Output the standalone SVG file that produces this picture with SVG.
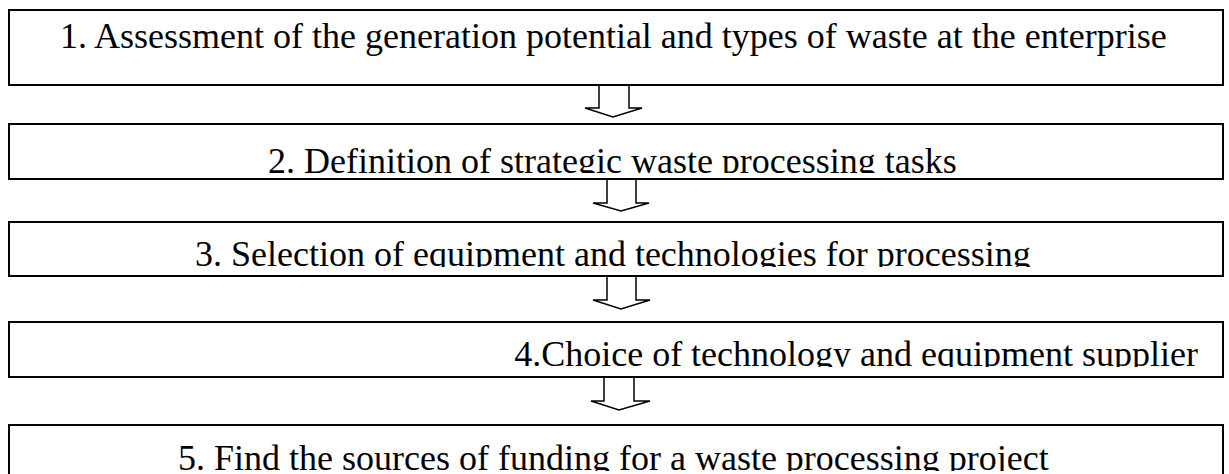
<svg xmlns="http://www.w3.org/2000/svg" width="1229" height="474" viewBox="0 0 1229 474">
<style>
.box{fill:#fff;stroke:#000;stroke-width:2}
.lbl{font-family:"Liberation Serif","Times New Roman",serif;font-size:36px;fill:#000}
.arr{fill:#fff;stroke:#000;stroke-width:1.5;stroke-linejoin:miter}
</style>
<defs>
<clipPath id="c2"><rect x="9" y="124" width="1214" height="49"/></clipPath>
<clipPath id="c3"><rect x="9" y="222" width="1214" height="45"/></clipPath>
<clipPath id="c4"><rect x="9" y="322" width="1214" height="45"/></clipPath>
<clipPath id="c5"><rect x="9" y="425" width="1214" height="46"/></clipPath>
</defs>
<g id="connectors">
<polyline class="arr" points="599,85 599,108 585,108 613,117 642,108 629,108 629,85"/>
<polyline class="arr" points="607,179 607,203 593,203 621,211 649,203 636,203 636,179"/>
<polyline class="arr" points="607,276 607,300 593,300 621,309 650,300 636,300 636,276"/>
<polyline class="arr" points="604,377 604,401 591,401 619,410 650,401 634,401 634,377"/>
</g>
<g id="node1">
<rect class="box" x="9" y="10" width="1214" height="75"/>
<text class="lbl" x="60" y="48">1. Assessment of the generation potential and types of waste at the enterprise</text>
</g>
<g id="node2">
<rect class="box" x="9" y="124" width="1214" height="55"/>
<text class="lbl" x="268" y="173" clip-path="url(#c2)">2. Definition of strategic waste processing tasks</text>
</g>
<g id="node3">
<rect class="box" x="9" y="222" width="1214" height="54"/>
<text class="lbl" x="195" y="266" clip-path="url(#c3)">3. Selection of equipment and technologies for processing</text>
</g>
<g id="node4">
<rect class="box" x="9" y="322" width="1214" height="55"/>
<text class="lbl" x="1198" y="366" text-anchor="end" clip-path="url(#c4)">4.Choice of technology and equipment supplier</text>
</g>
<g id="node5">
<rect class="box" x="9" y="425" width="1214" height="70"/>
<text class="lbl" x="178" y="470" clip-path="url(#c5)">5. Find the sources of funding for a waste processing project</text>
</g>
</svg>
